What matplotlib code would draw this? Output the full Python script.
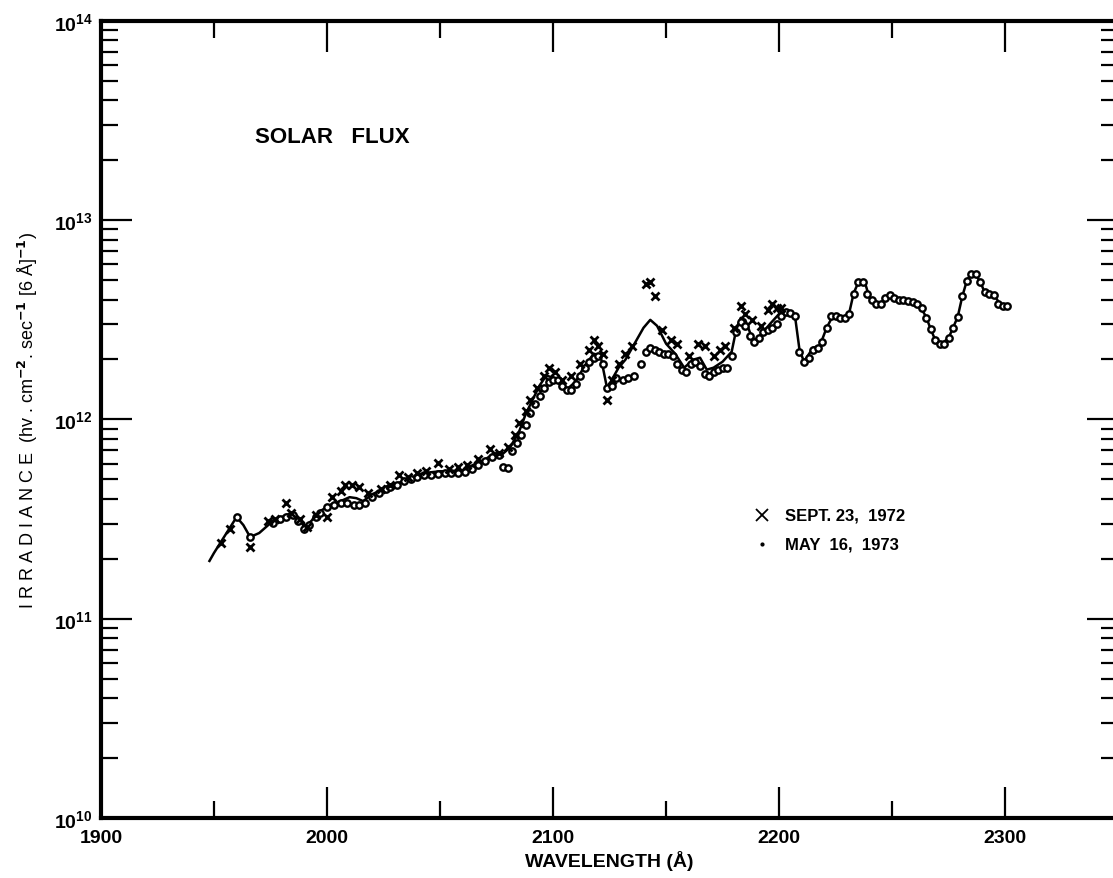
import numpy as np
import matplotlib.pyplot as plt
from matplotlib.ticker import LogLocator, LogFormatterMathtext, MultipleLocator, NullFormatter

# smooth curve, log10 of irradiance
curve_wl = [1948, 1950, 1955, 1960, 1963, 1966, 1970, 1975, 1980, 1984, 1987, 1990, 1993, 1997,
            2002, 2006, 2010, 2013, 2016, 2020, 2024, 2030, 2036, 2041, 2046, 2050, 2055, 2060,
            2066, 2070, 2074, 2078, 2081, 2085, 2088, 2091, 2094, 2097, 2100, 2103, 2106, 2110,
            2114, 2118, 2121, 2124, 2126, 2129, 2132, 2136, 2140, 2143, 2146, 2150, 2154, 2158,
            2162, 2165, 2168, 2171, 2175, 2179, 2181, 2183, 2185, 2188, 2190, 2193, 2196, 2200,
            2204, 2207, 2209, 2211, 2215, 2218, 2221, 2224, 2228, 2231, 2233, 2235.5, 2238, 2240,
            2244, 2249, 2254, 2259, 2262, 2265, 2267, 2269, 2272, 2275, 2279, 2281, 2283, 2285,
            2287, 2289.5, 2291, 2295, 2298, 2302]
curve_log = [11.29, 11.33, 11.42, 11.51, 11.47, 11.41, 11.43, 11.48, 11.51, 11.53, 11.51, 11.46, 11.49, 11.54,
             11.575, 11.59, 11.61, 11.605, 11.59, 11.625, 11.645, 11.675, 11.70, 11.725, 11.735, 11.74, 11.74, 11.745,
             11.78, 11.80, 11.83, 11.83, 11.86, 11.94, 12.03, 12.10, 12.17, 12.22, 12.21, 12.18, 12.15, 12.19,
             12.27, 12.33, 12.32, 12.15, 12.20, 12.26, 12.30, 12.38, 12.46, 12.50, 12.47, 12.38, 12.33, 12.26,
             12.30, 12.31, 12.25, 12.26, 12.29, 12.34, 12.45, 12.51, 12.50, 12.41, 12.40, 12.44, 12.48, 12.53,
             12.545, 12.52, 12.35, 12.29, 12.36, 12.37, 12.46, 12.525, 12.51, 12.535, 12.635, 12.70, 12.685, 12.61,
             12.575, 12.625, 12.60, 12.59, 12.575, 12.515, 12.455, 12.40, 12.38, 12.41, 12.515, 12.617, 12.695, 12.735,
             12.728, 12.677, 12.635, 12.625, 12.575, 12.57]

# Sept. 23, 1972 (crosses)
sept_wl = [1953, 1957, 1966, 1974, 1977, 1982, 1984, 1988, 1991, 1995, 2000, 2002, 2006, 2008, 2011,
           2014, 2018, 2024, 2028, 2032, 2036, 2040, 2044, 2049, 2054, 2058, 2062, 2067, 2072, 2076,
           2080, 2083, 2085, 2088, 2090, 2093, 2096, 2098, 2101, 2104, 2108, 2112, 2116, 2118, 2120,
           2122, 2124, 2126, 2129, 2132, 2135, 2141, 2143, 2145, 2148, 2152, 2155, 2160, 2164, 2167,
           2171, 2174, 2176, 2180, 2183, 2185, 2188, 2192, 2195, 2197, 2199, 2201]
sept_log = [11.38, 11.45, 11.36, 11.49, 11.50, 11.58, 11.53, 11.50, 11.46, 11.52, 11.51, 11.61, 11.64, 11.67, 11.67,
            11.66, 11.63, 11.65, 11.67, 11.72, 11.71, 11.73, 11.74, 11.78, 11.75, 11.76, 11.77, 11.80, 11.85, 11.83,
            11.86, 11.92, 11.98, 12.04, 12.10, 12.16, 12.22, 12.26, 12.24, 12.20, 12.22, 12.28, 12.35, 12.40, 12.37,
            12.33, 12.10, 12.20, 12.28, 12.33, 12.37, 12.68, 12.69, 12.62, 12.45, 12.40, 12.38, 12.32, 12.38, 12.37,
            12.32, 12.35, 12.37, 12.46, 12.57, 12.53, 12.50, 12.47, 12.55, 12.58, 12.56, 12.56]

# May 16, 1973 (circles)
may_wl = [1960, 1966, 1976, 1979, 1982, 1985, 1987, 1990, 1992, 1995, 1997, 2000, 2003, 2006, 2009,
          2012, 2014, 2017, 2020, 2023, 2026, 2028, 2031, 2034, 2037, 2040, 2043, 2046, 2049, 2052,
          2055, 2058, 2061, 2064, 2067, 2070, 2073, 2076, 2078, 2080, 2082, 2084, 2086, 2088, 2090,
          2092, 2094, 2096, 2098, 2100, 2102, 2104, 2106, 2108, 2110, 2112, 2114, 2116, 2118, 2120,
          2122, 2124, 2126, 2128, 2131, 2133, 2136, 2139, 2141, 2143, 2145, 2147, 2149, 2151, 2153,
          2155, 2157, 2159, 2161, 2163, 2165, 2167, 2169, 2171, 2173, 2175, 2177, 2179, 2181, 2183,
          2185, 2187, 2189, 2191, 2193, 2195, 2197, 2199, 2201, 2203, 2205, 2207, 2209, 2211, 2213,
          2215, 2217, 2219, 2221, 2223, 2225, 2227, 2229, 2231, 2233, 2235, 2237, 2239, 2241, 2243,
          2245, 2247, 2249, 2251, 2253, 2255, 2257, 2259, 2261, 2263, 2265, 2267, 2269, 2271, 2273,
          2275, 2277, 2279, 2281, 2283, 2285, 2287, 2289, 2291, 2293, 2295, 2297, 2299, 2301]
may_log = [11.51, 11.41, 11.48, 11.50, 11.51, 11.52, 11.49, 11.45, 11.47, 11.51, 11.53, 11.56, 11.57, 11.58, 11.58,
           11.57, 11.57, 11.58, 11.61, 11.63, 11.65, 11.66, 11.67, 11.69, 11.70, 11.71, 11.72, 11.72, 11.725, 11.73,
           11.73, 11.73, 11.735, 11.75, 11.77, 11.79, 11.81, 11.82, 11.76, 11.755, 11.84, 11.88, 11.92, 11.97, 12.03,
           12.08, 12.12, 12.16, 12.19, 12.20, 12.20, 12.17, 12.15, 12.15, 12.18, 12.22, 12.26, 12.29, 12.31, 12.32,
           12.28, 12.16, 12.17, 12.21, 12.20, 12.21, 12.22, 12.28, 12.34, 12.36, 12.35, 12.34, 12.33, 12.33, 12.32,
           12.28, 12.25, 12.24, 12.28, 12.29, 12.27, 12.23, 12.22, 12.24, 12.25, 12.26, 12.26, 12.32, 12.44, 12.49,
           12.47, 12.42, 12.39, 12.41, 12.44, 12.45, 12.46, 12.48, 12.52, 12.54, 12.535, 12.52, 12.34, 12.29, 12.31,
           12.35, 12.36, 12.39, 12.46, 12.52, 12.52, 12.51, 12.51, 12.53, 12.63, 12.69, 12.69, 12.63, 12.60, 12.58,
           12.58, 12.61, 12.625, 12.61, 12.60, 12.60, 12.595, 12.59, 12.58, 12.56, 12.51, 12.455, 12.40, 12.38, 12.38,
           12.41, 12.46, 12.515, 12.62, 12.695, 12.73, 12.73, 12.69, 12.64, 12.63, 12.625, 12.58, 12.57, 12.57]

plt.rcParams['font.family'] = ['Liberation Sans', 'DejaVu Sans']
plt.rcParams['font.weight'] = 'bold'

fig = plt.figure(figsize=(11.13, 8.79), dpi=100)
ax = fig.add_axes([0.0907, 0.0683, 0.914, 0.9067])

ax.plot(curve_wl, 10 ** np.array(curve_log), color="black", lw=1.8, zorder=2)
ax.plot(may_wl, 10 ** np.array(may_log), ls="none", marker="o", ms=4.6,
        mfc="white", mec="black", mew=1.7, zorder=3)
ax.plot(sept_wl, 10 ** np.array(sept_log), ls="none", marker="x", ms=6.0,
        color="black", mew=2.0, zorder=4)

ax.set_yscale("log")
ax.set_ylim(1e10, 1e14)
ax.set_xlim(1900, 2350)

ax.xaxis.set_major_locator(MultipleLocator(100))
ax.xaxis.set_minor_locator(MultipleLocator(50))
ax.yaxis.set_major_locator(LogLocator(base=10, numticks=10))
ax.yaxis.set_minor_locator(LogLocator(base=10, subs=np.arange(2, 10), numticks=20))
ax.yaxis.set_major_formatter(LogFormatterMathtext())
ax.yaxis.set_minor_formatter(NullFormatter())

ax.tick_params(which="both", direction="in", top=True, right=True, labelsize=14, width=1.6)
ax.tick_params(which="major", length=22)
ax.tick_params(which="minor", length=12)
ax.tick_params(axis="x", which="major", pad=8)
ax.tick_params(axis="y", which="major", pad=6)
for s in ax.spines.values():
    s.set_linewidth(3)

ax.set_xlabel("WAVELENGTH (Å)", fontsize=14, fontweight="bold", labelpad=3)
ax.set_ylabel(r"I R R A D I A N C E  (hv . cm$^{-2}$. sec$^{-1}$ [6 Å]$^{-1}$)",
              fontsize=13, fontweight="normal", labelpad=10)

ax.text(1968, 10 ** 13.42, "SOLAR   FLUX", fontsize=16, fontweight="bold", va="center")

ax.plot([2192.5], [10 ** 11.52], ls="none", marker="x", ms=8, color="black", mew=1.3)
ax.text(2202.5, 10 ** 11.52, "SEPT. 23,  1972", fontsize=12, va="center")
ax.plot([2192.5], [10 ** 11.375], ls="none", marker=".", ms=4, color="black")
ax.text(2202.5, 10 ** 11.375, "MAY  16,  1973", fontsize=12, va="center")

plt.savefig("out.png", dpi=100)
